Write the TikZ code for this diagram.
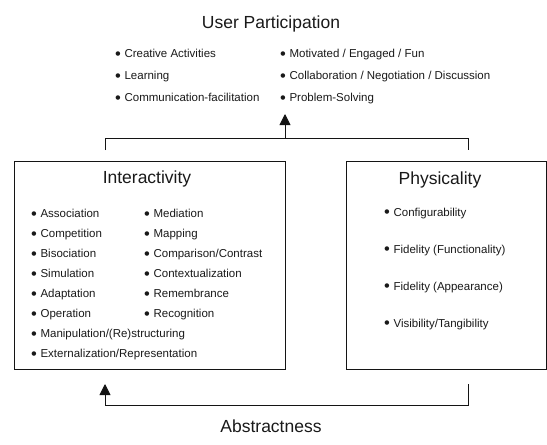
\documentclass[tikz,border=0pt]{standalone}
\usepackage{fontspec}
\setmainfont{Liberation Sans}
\usepackage{tikz}
\usetikzlibrary{positioning, arrows.meta}
\definecolor{LineColor}{RGB}{20,20,20}
\definecolor{TextColor}{RGB}{25,25,25}
\newcommand{\dotmark}{\raisebox{-1.5pt}{\fontsize{16.5}{16.5}\selectfont\textbullet}\hspace{3.6pt}}
\tikzstyle{heading} = [anchor=base, inner sep=0pt, TextColor, font=\fontsize{17.5}{20}\selectfont]
\tikzstyle{itemlist} = [anchor=north west, inner sep=0pt, align=left, TextColor]
\tikzstyle{panel} = [draw=LineColor, line width=0.9pt, anchor=north west, inner sep=0pt]
\tikzstyle{link} = [LineColor, line width=0.9pt]
\tikzstyle{arrow} = [LineColor, line width=0.9pt, -{Triangle[width=11pt,length=11pt]}]

\begin{document}
\begin{tikzpicture}[x=1pt, y=-1pt]
            \useasboundingbox (0,0) rectangle (547,445);

            % User Participation
            \node[heading] (part) at (271,28) {User Participation};
            \node[itemlist, font=\fontsize{11.5}{22}\selectfont] (partA) at (115,49)
                {\dotmark Creative Activities\\ \dotmark Learning\\ \dotmark Communication-facilitation};
            \node[itemlist, font=\fontsize{11.5}{22}\selectfont] (partB) at (280,49)
                {\dotmark Motivated / Engaged / Fun\\ \dotmark Collaboration / Negotiation / Discussion\\ \dotmark Problem-Solving};

            % Interactivity
            \node[panel, minimum width=271pt, minimum height=208pt] (inter) at (14,161) {};
            \node[heading] (interT) at (147,183) {Interactivity};
            \node[itemlist, font=\fontsize{11.5}{20}\selectfont] (interA) at (31,209)
                {\dotmark Association\\ \dotmark Competition\\ \dotmark Bisociation\\ \dotmark Simulation\\
                 \dotmark Adaptation\\ \dotmark Operation\\ \dotmark Manipulation/(Re)structuring\\ \dotmark Externalization/Representation};
            \node[itemlist, font=\fontsize{11.5}{20}\selectfont] (interB) at (144,209)
                {\dotmark Mediation\\ \dotmark Mapping\\ \dotmark Comparison/Contrast\\ \dotmark Contextualization\\
                 \dotmark Remembrance\\ \dotmark Recognition};

            % Physicality
            \node[panel, minimum width=200pt, minimum height=208pt] (phys) at (346,161) {};
            \node[heading] (physT) at (440,184) {Physicality};
            \node[itemlist, font=\fontsize{11.5}{37}\selectfont] (physA) at (384,207.5)
                {\dotmark Configurability\\ \dotmark Fidelity (Functionality)\\ \dotmark Fidelity (Appearance)\\ \dotmark Visibility/Tangibility};

            % Joining bracket and arrow up
            \coordinate (interUp) at (105,150);
            \coordinate (physUp) at (468,150);
            \coordinate (joinMid) at (285,138);
            \coordinate (partIn) at (285,114);
            \draw[link] (interUp) -- ++(0,-12) -| (physUp);
            \draw[arrow] (joinMid) -- (partIn);

            % Abstractness
            \coordinate (interDown) at (105,384);
            \coordinate (physDown) at (468,384);
            \draw[arrow, {Triangle[width=11pt,length=11pt]}-] (interDown) -- ++(0,21) -| (physDown);
            \node[heading] (abst) at (271,432) {Abstractness};
        \end{tikzpicture}
\end{document}
